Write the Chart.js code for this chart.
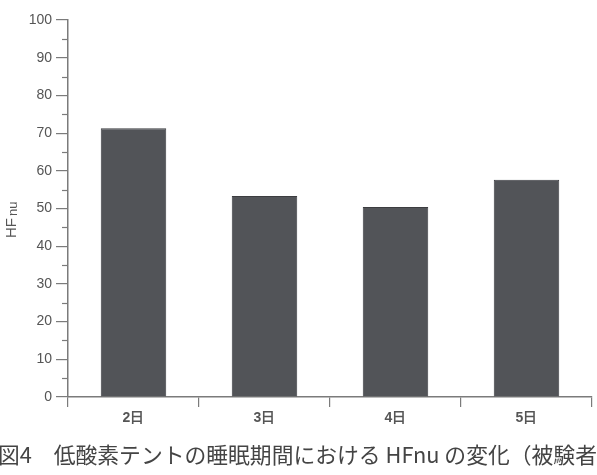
<!DOCTYPE html>
<html>
<head>
    <meta charset="utf-8">
    <title>HFnu</title>
    <script src="https://cdn.jsdelivr.net/npm/chart.js"></script>
    <style>
        body { margin: 0; background: #fff; }
        #wrap { position: relative; width: 597px; height: 475px; overflow: hidden; }
        #caption {
            position: absolute; left: -2px; top: 442px;
            font-family: "Noto Sans CJK JP", sans-serif; font-size: 21.8px; line-height: 24px;
            color: #444; white-space: nowrap;
        }
    </style>
</head>
<body>
<div id="wrap">
    <canvas id="myChart" width="597" height="475"></canvas>
    <div id="caption">図4　低酸素テントの睡眠期間における HFnu の変化（被験者</div>
</div>

<script>
    // dati
    const days = ['2日', '3日', '4日', '5日'];
    const hfnu = [71.3, 53.3, 50.4, 57.6];
    const yTicks = [0, 10, 20, 30, 40, 50, 60, 70, 80, 90, 100];
    const yMinorTicks = [5, 15, 25, 35, 45, 55, 65, 75, 85, 95];

    const axisColor = '#7b7b7b';

    // tacche minori e titolo dell'asse y (HF + pedice nu)
    const extras = {
        id: 'extras',
        afterDraw(chart) {
            const c = chart.ctx;
            const y = chart.scales.y;
            c.save();
            c.strokeStyle = axisColor;
            c.lineWidth = 1.2;
            yMinorTicks.forEach(v => {
                const py = Math.round(y.getPixelForValue(v)) + 0.5;
                c.beginPath();
                c.moveTo(y.right - 6, py);
                c.lineTo(y.right, py);
                c.stroke();
            });
            c.translate(16, 238);
            c.rotate(-Math.PI / 2);
            c.fillStyle = '#555';
            c.textBaseline = 'alphabetic';
            c.font = '15px "Liberation Sans", Arial, sans-serif';
            c.fillText('HF', 0, 0);
            const w = c.measureText('HF').width;
            c.font = '13px "Liberation Sans", Arial, sans-serif';
            c.fillText('nu', w + 2, 1);
            c.restore();
        }
    };

    const ctx = document.getElementById('myChart').getContext('2d');
    const myChartInstance = new Chart(ctx, {
        type: 'bar',
        data: {
            labels: days,
            datasets: [{
                label: 'HFnu',
                data: hfnu,
                backgroundColor: '#525458',
                borderColor: '#3c3d40',
                borderWidth: 1,
                barPercentage: 0.5,
                categoryPercentage: 1.0
            }]
        },
        options: {
            responsive: false,
            animation: false,
            layout: { padding: { top: 20, right: 5, bottom: 50, left: 0 } },
            plugins: {
                legend: { display: false },
                tooltip: { enabled: false }
            },
            scales: {
                x: {
                    afterFit(scale) { scale.height = 28; },
                    grid: {
                        offset: true,
                        drawOnChartArea: false,
                        drawTicks: true,
                        tickLength: 10,
                        color: axisColor,
                        lineWidth: 1.2
                    },
                    border: { color: axisColor, width: 1.5 },
                    ticks: {
                        color: '#555',
                        padding: 3,
                        font: { family: '"Liberation Sans", Arial, sans-serif', size: 14, weight: 'bold' }
                    }
                },
                y: {
                    min: 0,
                    max: 100,
                    afterFit(scale) { scale.width = 68; },
                    afterBuildTicks(scale) { scale.ticks = yTicks.map(v => ({ value: v })); },
                    grid: {
                        drawOnChartArea: false,
                        drawTicks: true,
                        tickLength: 12,
                        color: axisColor,
                        lineWidth: 1.2
                    },
                    border: { color: axisColor, width: 1.5 },
                    ticks: {
                        color: '#555',
                        padding: 4,
                        font: { family: '"Liberation Sans", Arial, sans-serif', size: 14 }
                    }
                }
            }
        },
        plugins: [extras]
    });
</script>
</body>
</html>
